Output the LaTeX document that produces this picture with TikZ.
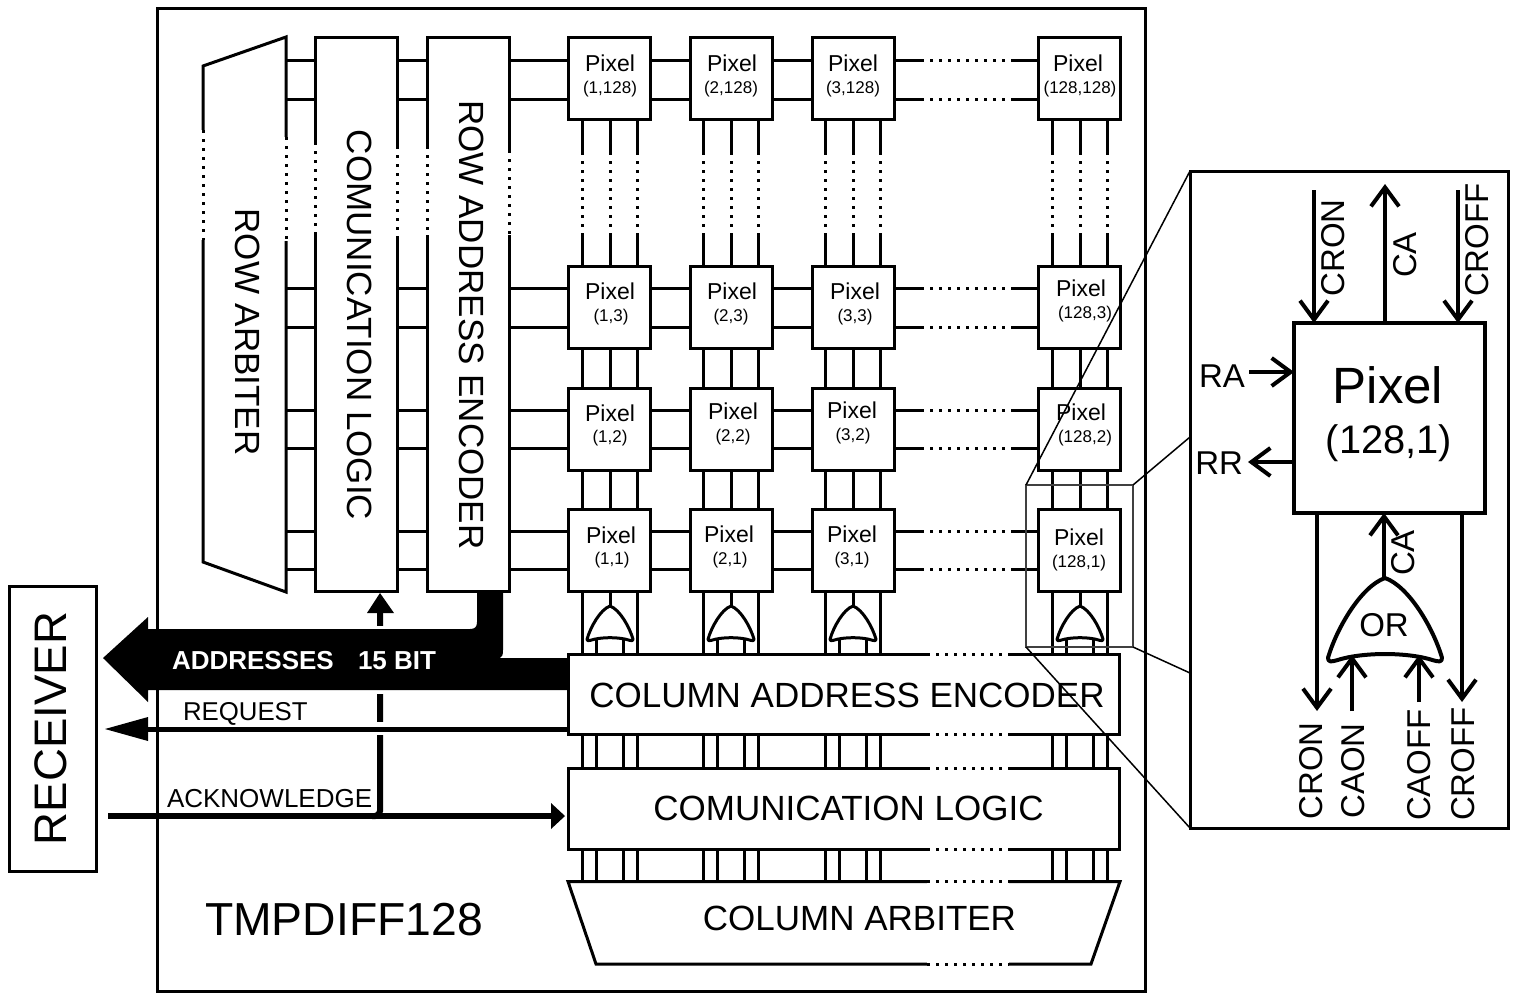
\documentclass[tikz,border=0pt]{standalone}
\usepackage{fontspec}
\setmainfont{Liberation Sans}
\usetikzlibrary{arrows.meta}
\tikzset{
  sz/.style={font=\fontsize{#1}{#1}\selectfont},
  txt/.style={inner sep=0pt,outer sep=0pt},
  wire/.style={line width=3pt,line cap=butt},
  boxn/.style={draw,line width=3pt,inner sep=0pt,outer sep=0pt,rectangle},
  pixbox/.style={boxn,minimum width=82pt,minimum height=82pt},
  dotsl/.style={line width=3pt,dash pattern=on 3pt off 6pt},
  gapl/.style={white,line width=5pt},
  big/.style={line width=4pt,-{Straight Barb[length=19pt,width=28pt,line width=4pt]}},
  zoomln/.style={line width=1.5pt},
}
\newcommand{\gapline}[4]{%
  \draw[gapl] (#1,#2) -- (#3,#4);
  \draw[dotsl] (#1,#2) -- (#3,#4);}
\newcommand{\orgate}[5]{% cx, top, halfwidth, height, linewidth
  \draw[line width=#5pt,line join=round,fill=white]
    (#1,#2) .. controls ({#1-0.42*#3},{#2+0.1*#4}) and ({#1-0.85*#3},{#2+0.6*#4}) .. ({#1-#3},{#2+0.95*#4})
    .. controls ({#1-#3},{#2+#4}) and ({#1-0.95*#3},{#2+#4}) .. ({#1-0.85*#3},{#2+0.98*#4})
    .. controls ({#1-0.4*#3},{#2+0.88*#4}) and ({#1+0.4*#3},{#2+0.88*#4}) .. ({#1+0.85*#3},{#2+0.98*#4})
    .. controls ({#1+0.95*#3},{#2+#4}) and ({#1+#3},{#2+#4}) .. ({#1+#3},{#2+0.95*#4})
    .. controls ({#1+0.85*#3},{#2+0.6*#4}) and ({#1+0.42*#3},{#2+0.1*#4}) .. cycle;}
\begin{document}
\begin{tikzpicture}[x=1pt,y=-1pt]
\useasboundingbox (0,0) rectangle (1515,994);
\fill[white] (0,0) rectangle (1515,994);

% outer chip and receiver
\node[boxn,minimum width=988pt,minimum height=983pt] (chip) at (651,499.5) {};
\node[boxn,minimum width=87pt,minimum height=285pt] (rx) at (52.5,728.5) {};
\node[txt,sz=45.6,rotate=90] (rxt) at (51,728.5) {RECEIVER};

% row blocks
\draw[line width=3pt,line join=miter] (203,66) -- (286,37) -- (286,592) -- (203,562) -- cycle;
\coordinate (rarb) at (286,314);
\node[boxn,minimum width=82pt,minimum height=554pt] (rcl) at (356,314) {};
\node[boxn,minimum width=82pt,minimum height=554pt] (rae) at (468,314) {};
\node[txt,sz=35,rotate=-90] (t1) at (248,332) {ROW ARBITER};
\node[txt,sz=35,rotate=-90] (t2) at (360,325) {COMUNICATION LOGIC};
\node[txt,sz=35,rotate=-90] (t3) at (471.5,325) {ROW ADDRESS ENCODER};
\gapline{203}{130}{203}{240}
\gapline{286}{137}{286}{241}
\gapline{315}{142}{315}{234}
\gapline{397}{146}{397}{238}
\gapline{427}{146}{427}{235}
\gapline{509}{150}{509}{235}

% pixels
\foreach \cn/\xl in {a/568,b/690,c/812,d/1038}
  \foreach \rn/\yt in {w/37,z/266,y/388,x/509}
    \node[pixbox] (p\cn\rn) at (\xl+41,\yt+41) {};

\foreach \px/\py/\lx/\ly/\lab in {
  610/63/610/87/{(1,128)},732/63/731/87/{(2,128)},853/63/853/87/{(3,128)},1078/63/1080/87/{(128,128)},
  610/291/611/315/{(1,3)},732/291/731/315/{(2,3)},855/291/855/315/{(3,3)},1081/288/1085/312/{(128,3)},
  610/413/610/436/{(1,2)},733/411/733/435/{(2,2)},852/410/853/434/{(3,2)},1081/412/1085/436/{(128,2)},
  611/535/612/558/{(1,1)},729/534/730/558/{(2,1)},852/534/852/558/{(3,1)},1079/537/1079/561/{(128,1)}}
{
  \node[txt,sz=23,anchor=base] at (\px,\py+8) {Pixel};
  \node[txt,sz=17,anchor=base] at (\lx,\ly+6) {\lab};
}

% horizontal bus wires
\foreach \rn/\ya/\yb in {w/60/99,z/288/327,y/410/448,x/531/569}
  \foreach \y in {\ya,\yb} {
    \draw[wire] (rarb |- 0,\y) -- (rcl.west |- 0,\y);
    \draw[wire] (rcl.east |- 0,\y) -- (rae.west |- 0,\y);
    \draw[wire] (rae.east |- 0,\y) -- (pa\rn.west |- 0,\y);
    \draw[wire] (pa\rn.east |- 0,\y) -- (pb\rn.west |- 0,\y);
    \draw[wire] (pb\rn.east |- 0,\y) -- (pc\rn.west |- 0,\y);
    \draw[wire] (pc\rn.east |- 0,\y) -- (pd\rn.west |- 0,\y);
    \gapline{921}{\y}{1011}{\y}
  }

% column encoder / logic / arbiter
\node[boxn,minimum width=551pt,minimum height=80pt] (cae) at (843.5,694) {};
\node[boxn,minimum width=551pt,minimum height=81pt] (ccl) at (843.5,808.5) {};
\draw[line width=3pt,line join=miter] (568,881.5) -- (1120,881.5) -- (1091,964) -- (596,964) -- cycle;
\coordinate (carb) at (843.5,881.5);
\node[txt,sz=35] (t4) at (847,695) {COLUMN ADDRESS ENCODER};
\node[txt,sz=35] (t5) at (848.5,808) {COMUNICATION LOGIC};
\node[txt,sz=35] (t6) at (859.5,918) {COLUMN ARBITER};
\foreach \y in {654,734,768,849,881.5,964} { \gapline{927}{\y}{1009}{\y} }

% vertical wires per column
\foreach \cn/\cx in {a/610,b/731,c/853,d/1080} {
  \foreach \dx in {-28,0,27} {
    \draw[wire] (p\cn w.south -| \cx+\dx,0) -- (p\cn z.north -| \cx+\dx,0);
    \draw[wire] (p\cn z.south -| \cx+\dx,0) -- (p\cn y.north -| \cx+\dx,0);
    \draw[wire] (p\cn y.south -| \cx+\dx,0) -- (p\cn x.north -| \cx+\dx,0);
    \gapline{\cx+\dx}{152}{\cx+\dx}{236}
  }
  \draw[wire] (p\cn x.south -| \cx-28,0) -- (cae.north -| \cx-28,0);
  \draw[wire] (p\cn x.south -| \cx+27,0) -- (cae.north -| \cx+27,0);
  \draw[wire] (p\cn x.south -| \cx,0) -- (\cx,606);
  \orgate{\cx}{606}{23}{35}{3}
  \foreach \dx in {-14,13} {
    \draw[wire] (\cx+\dx,638) -- (cae.north -| \cx+\dx,0);
  }
  \foreach \dx in {-28,-14,13,27} {
    \draw[wire] (cae.south -| \cx+\dx,0) -- (ccl.north -| \cx+\dx,0);
    \draw[wire] (ccl.south -| \cx+\dx,0) -- (carb -| \cx+\dx,0);
  }
}

% acknowledge branch (runs behind the address bus)
\coordinate (ackj) at (380,816);
\coordinate (ackl) at (108,816);
\draw[line width=6pt,rounded corners=5pt] (372,816) -- (ackj) -- (380,613);
\fill (380,593) -- (394,613) -- (367,613) -- cycle;
\draw[white,line width=8pt] (380,722) -- (380,735);
\draw[white,line width=8pt] (380,626) -- (380,629);
\draw[white,line width=8pt] (380,690) -- (380,694);

% acknowledge wire
\draw[line width=6pt] (ackl) -- (551,816);
\fill (ccl.west |- 0,816) ++(-3,0) -- (551,803) -- (551,829) -- cycle;

% request
\draw[line width=5pt] (cae.west |- 0,729) -- (148,729);
\fill (105,729) -- (148,717) -- (148,741) -- cycle;
\node[txt,sz=25.8,anchor=base west] (req) at (183,720) {REQUEST};
\node[txt,sz=26,anchor=base west] (ack) at (167,807) {ACKNOWLEDGE};

% addresses bus
\fill (103,658) -- (148,617) -- (148,629) -- (470,629)
  .. controls (475,629) and (477,627) .. (477,622)
  -- (477,590) -- (503,590) -- (503,650)
  .. controls (503,655) and (502,657) .. (500,658)
  -- (568,658) -- (568,690) -- (148,690) -- (148,702) -- cycle;
\node[txt,anchor=base west,text=white,font=\fontsize{26}{26}\selectfont\bfseries] (addr) at (172,669) {ADDRESSES};
\node[txt,anchor=base west,text=white,font=\fontsize{26}{26}\selectfont\bfseries] (bits) at (358,669) {15 BIT};

\node[txt,sz=46.3,anchor=base west] (chipname) at (205,935) {TMPDIFF128};

% zoom frame
\node[draw=black!75,line width=1.5pt,inner sep=0pt,outer sep=0pt,minimum width=107pt,minimum height=162pt] (zr) at (1079.5,566) {};
\node[boxn,fill=white,minimum width=318pt,minimum height=657pt] (ins) at (1349,499.5) {};
\draw[zoomln] (zr.north west) -- (ins.north west);
\draw[zoomln] (zr.north east) -- (ins.west |- 0,437);
\draw[zoomln] (zr.south east) -- (ins.west |- 0,673);
\draw[zoomln] (zr.south west) -- (ins.south west);

% inset contents
\node[draw,line width=4pt,inner sep=0pt,outer sep=0pt,minimum width=191pt,minimum height=190pt] (bp) at (1389.5,418) {};
\node[txt,sz=51,anchor=base] (bpt) at (1388,403) {Pixel};
\node[txt,sz=39.8,anchor=base] (bpl) at (1389,453) {(128,1)};

\coordinate (cronT) at (1314,190);
\coordinate (caT) at (1385,184);
\coordinate (croffT) at (1458,190);
\draw[big] (cronT) -- (bp.north -| cronT);
\draw[big] (bp.north -| caT) -- (caT);
\draw[big] (croffT) -- (bp.north -| croffT);
\coordinate (raL) at (1249,372);
\coordinate (rrL) at (1248,462);
\draw[big] (raL) -- (bp.west |- raL);
\draw[big] (bp.west |- rrL) -- (rrL);
\coordinate (cronB) at (1317,711);
\coordinate (croffB) at (1462,702);
\draw[big] (bp.south -| cronB) -- (cronB);
\draw[big] (bp.south -| croffB) -- (croffB);
\orgate{1385}{578}{57}{84}{4}
\coordinate (orTop) at (1384,578);
\draw[big] (orTop) -- (bp.south -| orTop);
\coordinate (caonB) at (1352,711);
\coordinate (caoffB) at (1419,702);
\draw[big] (caonB) -- (1352,655);
\draw[big] (caoffB) -- (1419,655);

\node[txt,sz=33,anchor=base east] (lra) at (1245,387) {RA};
\node[txt,sz=33,anchor=base east] (lrr) at (1243,474) {RR};
\node[txt,sz=33,rotate=90] (l1) at (1333,248) {CRON};
\node[txt,sz=33,rotate=90] (l2) at (1405,255) {CA};
\node[txt,sz=33,rotate=90] (l3) at (1477,240) {CROFF};
\node[txt,sz=33,rotate=90] (l4) at (1403,553) {CA};
\node[txt,sz=33] (lor) at (1384,625) {OR};
\node[txt,sz=33,rotate=90] (l5) at (1311,771) {CRON};
\node[txt,sz=33,rotate=90] (l6) at (1353,771) {CAON};
\node[txt,sz=33,rotate=90] (l7) at (1419,765) {CAOFF};
\node[txt,sz=33,rotate=90] (l8) at (1463,764) {CROFF};
\end{tikzpicture}
\end{document}
